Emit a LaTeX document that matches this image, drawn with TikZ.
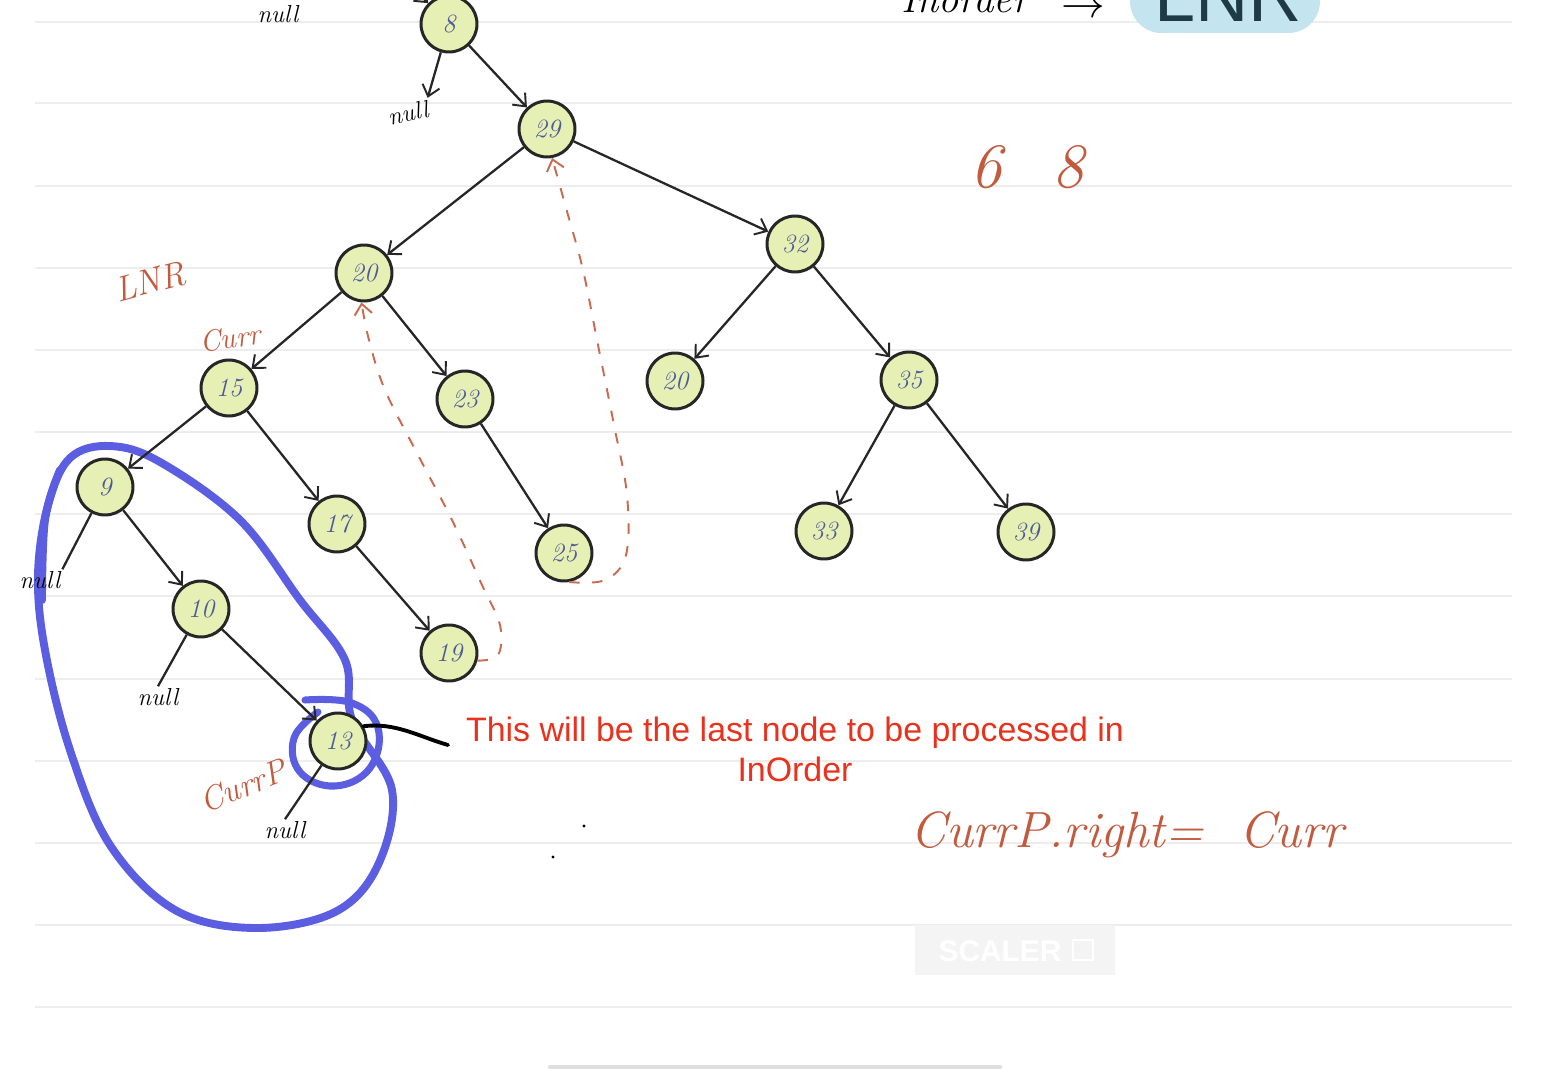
\documentclass[tikz,border=0pt]{standalone}
\usepackage{fontspec}
\newfontfamily\sansf{Liberation Sans}
\usetikzlibrary{arrows.meta,calc}
\definecolor{nodefill}{HTML}{E6EFB4}
\definecolor{numcol}{HTML}{4C5A98}
\definecolor{handred}{HTML}{C25A3E}
\definecolor{txtred}{HTML}{E8321E}
\definecolor{loopblue}{HTML}{5B5EE0}
\definecolor{rulegray}{HTML}{EDEDED}
\definecolor{boxblue}{HTML}{C4E5F0}
\tikzset{
  tn/.style={circle,draw=black!85,line width=1.7pt,fill=nodefill,minimum size=1.12cm,inner sep=0pt,
    font=\fontsize{15}{15}\selectfont\itshape,text=numcol},
  nl/.style={font=\fontsize{14}{14}\selectfont\itshape,text=black,inner sep=1pt},
  edge/.style={line width=1.3pt,black!85,-{Straight Barb[length=6pt,width=10pt,line width=1.1pt]}},
  plain/.style={line width=1.3pt,black!85},
  hand/.style={text=handred,font=\itshape},
  rdash/.style={handred!90,line width=1.1pt,dash pattern=on 6pt off 7pt},
  ruleline/.style={rulegray,line width=1.2pt}
}
\begin{document}
\begin{tikzpicture}[x=0.02cm,y=-0.02cm]
\clip (0,0) rectangle (1544,1078);
\fill[white] (0,0) rectangle (1544,1078);
% ruling lines
\foreach \yy in {22,103,186,268,350,432,514,596,679,761,843,925,1007}
  \draw[ruleline] (35,\yy) -- (1512,\yy);
% scroll bar
\draw[gray!25,line width=2.5pt,line cap=round] (550,1067) -- (1000,1067);
% watermark
\fill[gray!9] (915,925) rectangle (1115,975);
\node[text=white,font=\sansf\bfseries\fontsize{17}{17}\selectfont] (wm) at (1000,951) {SCALER};
\draw[white,line width=1.5pt] (1073,940) rectangle (1093,960);
% top right header
\fill[boxblue,rounded corners=18pt] (1130,-40) rectangle (1320,33);
\node[anchor=base,text={rgb,255:red,30;green,58;blue,70},font=\sansf\fontsize{42}{42}\selectfont] (lnrtop) at (1228,22) {LNR};
\node[anchor=base,font=\itshape\fontsize{23}{23}\selectfont] (inord) at (965,13) {Inorder};
\node[anchor=base,font=\fontsize{26}{26}\selectfont] (inarr) at (1083,18) {$\rightarrow$};

% blue loop
\draw[loopblue,line width=4.5pt,line cap=round,line join=round]
  plot[smooth cycle,tension=0.6] coordinates {(70,458) (110,446) (160,462) (240,520) (300,600) (345,660) (352,720) (392,790) (378,865) (335,912) (255,928) (175,910) (110,845) (70,750) (45,650) (38,575) (48,505)};
\draw[loopblue,line width=4.5pt,line cap=round] plot[smooth,tension=0.6] coordinates {(60,470) (45,520) (42,600)};
\draw[loopblue,line width=4pt,line cap=round,line join=round]
  plot[smooth,tension=0.7] coordinates {(305,700) (352,703) (378,728) (370,768) (335,786) (300,772) (294,738) (318,712)};

% tree nodes
\node[tn] (n8)  at (449,24)  {8};
\node[tn] (n29) at (547,129) {29};
\node[tn] (n20) at (364,273) {20};
\node[tn] (n32) at (795,244) {32};
\node[tn] (n15) at (229,388) {15};
\node[tn] (n23) at (465,399) {23};
\node[tn] (n20b) at (675,381) {20};
\node[tn] (n35) at (909,380) {35};
\node[tn] (n9)  at (105,487) {9};
\node[tn] (n17) at (337,524) {17};
\node[tn] (n25) at (564,553) {25};
\node[tn] (n33) at (824,531) {33};
\node[tn] (n39) at (1026,532) {39};
\node[tn] (n10) at (201,609) {10};
\node[tn] (n19) at (449,653) {19};
\node[tn] (n13) at (338,741) {13};

% null labels
\node[nl] (null0) at (278,14) {null};
\node[nl,rotate=12] (null8) at (408,113) {null};
\node[nl] (null9) at (40,580) {null};
\node[nl] (null10) at (158,697) {null};
\node[nl] (null13) at (285,830) {null};

% edges
\coordinate (p8) at (405,-20);
\draw[edge] (p8) -- (n8);
\draw[edge] (n8) -- (null8.north east);
\draw[edge] (n8) -- (n29);
\draw[edge] (n29) -- (n20);
\draw[edge] (n29) -- (n32);
\draw[edge] (n20) -- (n15);
\draw[edge] (n20) -- (n23);
\draw[edge] (n32) -- (n20b);
\draw[edge] (n32) -- (n35);
\draw[edge] (n15) -- (n9);
\draw[edge] (n15) -- (n17);
\draw[edge] (n23) -- (n25);
\draw[edge] (n35) -- (n33);
\draw[edge] (n35) -- (n39);
\draw[plain] (n9) -- (null9.north east);
\draw[edge] (n9) -- (n10);
\draw[edge] (n17) -- (n19);
\draw[plain] (n10) -- (null10.north);
\draw[edge] (n10) -- (n13);
\draw[plain] (n13) -- (null13.north);

% red dashed threads
\draw[rdash,-{Straight Barb[length=6pt,width=10pt,line width=1.1pt]}]
  plot[smooth,tension=0.6] coordinates {(n19.-15) (498,655) (500,625) (482,585) (452,520) (418,455) (385,390) (369,340) (n20.-95)};
\draw[rdash,-{Straight Barb[length=6pt,width=10pt,line width=1.1pt]}]
  plot[smooth,tension=0.6] coordinates {(n25.-80) (605,580) (626,555) (627,495) (614,425) (598,345) (583,270) (568,215) (n29.-80)};

% black pointer
\coordinate (ptr) at (448,745);
\draw[line width=2.2pt,line cap=round] (n13.30) .. controls (395,722) and (420,737) .. (ptr);

% red annotation
\node[text=txtred,font=\sansf\fontsize{19.3}{22.7}\selectfont,align=center] (note) at (795,749)
  {This will be the last node to be processed in\\InOrder};

% handwritten labels
\node[hand,font=\itshape\fontsize{20}{20}\selectfont,rotate=15] (lnr) at (150,282) {LNR};
\node[hand,font=\itshape\fontsize{17}{17}\selectfont,rotate=8] (curr) at (230,338) {Curr};
\node[hand,font=\itshape\fontsize{19}{19}\selectfont,rotate=22,inner sep=0pt] (currp) at (243,786) {CurrP};
\node[hand,font=\itshape\fontsize{36}{36}\selectfont] (six) at (986,167) {6};
\node[hand,font=\itshape\fontsize{36}{36}\selectfont] (eight) at (1068,167) {8};
\node[hand,font=\itshape\fontsize{29}{29}\selectfont] (rule) at (1127,835) {CurrP.right= \ Curr};

% stray dots
\fill (584,826) circle (1.6);
\fill (553,857) circle (1.6);
\end{tikzpicture}
\end{document}
